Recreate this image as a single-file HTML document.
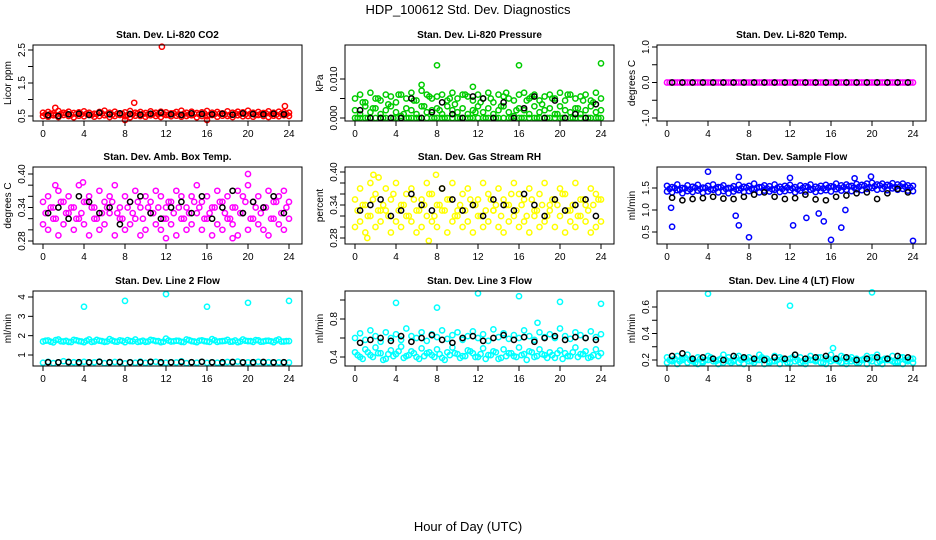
<!DOCTYPE html>
<html><head><meta charset="utf-8"><style>
body{margin:0;background:#fff}
svg{display:block;font-family:"Liberation Sans",sans-serif}
</style></head><body>
<svg id="chart" width="936" height="540" viewBox="0 0 936 540" xmlns="http://www.w3.org/2000/svg">
<rect width="936" height="540" fill="#fff"/>
<text x="468" y="14" font-size="13" text-anchor="middle">HDP_100612  Std. Dev. Diagnostics</text>
<text x="468" y="531" font-size="13" text-anchor="middle">Hour of Day (UTC)</text>
</svg>
<script>
const hours=[0,0.5,1,1.5,2,2.5,3,3.5,4,4.5,5,5.5,6,6.5,7,7.5,8,8.5,9,9.5,10,10.5,11,11.5,12,12.5,13,13.5,14,14.5,15,15.5,16,16.5,17,17.5,18,18.5,19,19.5,20,20.5,21,21.5,22,22.5,23,23.5,24];
const hoursQ=[0.25,0.75,1.25,1.75,2.25,2.75,3.25,3.75,4.25,4.75,5.25,5.75,6.25,6.75,7.25,7.75,8.25,8.75,9.25,9.75,10.25,10.75,11.25,11.75,12.25,12.75,13.25,13.75,14.25,14.75,15.25,15.75,16.25,16.75,17.25,17.75,18.25,18.75,19.25,19.75,20.25,20.75,21.25,21.75,22.25,22.75,23.25,23.75];
const hoursK=[0.5,1.5,2.5,3.5,4.5,5.5,6.5,7.5,8.5,9.5,10.5,11.5,12.5,13.5,14.5,15.5,16.5,17.5,18.5,19.5,20.5,21.5,22.5,23.5];
const xTicks=[0,4,8,12,16,20,24];

const co2A=[0.6,0.62,0.58,0.65,0.6,0.63,0.59,0.61,0.64,0.6,0.57,0.62,0.66,0.6,0.63,0.58,0.61,0.65,0.6,0.62,0.59,0.64,0.6,0.63,0.61,0.58,0.62,0.66,0.6,0.63,0.59,0.61,0.65,0.6,0.62,0.58,0.64,0.6,0.63,0.61,0.66,0.6,0.62,0.59,0.64,0.6,0.63,0.61,0.6];
const co2B=[0.5,0.48,0.52,0.47,0.53,0.5,0.46,0.51,0.49,0.54,0.48,0.5,0.52,0.47,0.5,0.53,0.49,0.46,0.51,0.5,0.48,0.52,0.5,0.47,0.53,0.49,0.51,0.48,0.5,0.52,0.46,0.5,0.49,0.53,0.48,0.51,0.5,0.47,0.52,0.49,0.5,0.48,0.53,0.5,0.47,0.51,0.49,0.52,0.5];
const co2D=[0.55,0.57,0.53,0.56,0.58,0.54,0.56,0.55,0.57,0.53,0.56,0.58,0.55,0.54,0.57,0.56,0.53,0.55,0.58,0.56,0.54,0.57,0.55,0.56,0.53,0.58,0.55,0.57,0.54,0.56,0.55,0.58,0.53,0.56,0.57,0.55,0.54,0.58,0.56,0.55,0.57,0.53,0.56,0.58,0.55,0.54,0.57,0.56];
const co2K=[0.52,0.5,0.55,0.57,0.53,0.6,0.55,0.58,0.56,0.54,0.57,0.6,0.55,0.53,0.58,0.56,0.55,0.57,0.54,0.58,0.56,0.55,0.57,0.55];
const co2OutH=[11.6,8.9,23.6,1.2,8,16];
const co2OutV=[2.6,0.9,0.8,0.75,0.38,0.38];

const presA=[0.005,0.006,0.004,0.0065,0.005,0.0045,0.006,0.0055,0.004,0.006,0.005,0.0065,0.0045,0.007,0.006,0.005,0.0055,0.006,0.0045,0.0065,0.005,0.006,0.0055,0.0045,0.006,0.005,0.0065,0.004,0.006,0.0055,0.005,0.0045,0.006,0.0065,0.005,0.006,0.0045,0.0055,0.006,0.005,0.0065,0.0045,0.006,0.005,0.0055,0.006,0.0045,0.0065,0.005];
const presB=[0.002,0.001,0.003,0.0015,0.0025,0.001,0.002,0.003,0.0015,0.0005,0.0025,0.002,0.001,0.003,0.0015,0.002,0.0025,0.001,0.003,0.002,0.0015,0.0025,0.001,0.002,0.003,0.0015,0.0025,0.001,0.002,0.003,0.0015,0.0005,0.0025,0.002,0.001,0.003,0.0015,0.002,0.0025,0.001,0.003,0.002,0.0015,0.0025,0.001,0.002,0.003,0.0015,0.002];
const presC=[0,0,0,0,0,0,0,0,0,0,0,0,0,0,0,0,0,0,0,0,0,0,0,0,0,0,0,0,0,0,0,0,0,0,0,0,0,0,0,0,0,0,0,0,0,0,0,0,0];
const presD=[0,0.004,0,0.0025,0.005,0,0.0035,0,0.006,0.001,0,0.0045,0,0.003,0.0055,0,0.002,0,0.005,0.0035,0,0.006,0,0.0015,0.004,0,0.005,0,0.003,0.0065,0,0.002,0,0.0045,0.0055,0,0.0035,0,0.005,0.001,0,0.006,0,0.0025,0.0045,0,0.004,0];
const presK=[0.002,0,0,0,0,0.005,0,0.0015,0.004,0.001,0,0.0055,0.005,0,0.004,0,0.0025,0.0055,0,0.0045,0,0.001,0,0.0035];
const presOutH=[8,16,24,6.5,11.5];
const presOutV=[0.0135,0.0135,0.014,0.0085,0.008];

const tempA=[0,0,0,0,0,0,0,0,0,0,0,0,0,0,0,0,0,0,0,0,0,0,0,0,0,0,0,0,0,0,0,0,0,0,0,0,0,0,0,0,0,0,0,0,0,0,0,0,0];
const tempD=[0,0,0,0,0,0,0,0,0,0,0,0,0,0,0,0,0,0,0,0,0,0,0,0,0,0,0,0,0,0,0,0,0,0,0,0,0,0,0,0,0,0,0,0,0,0,0,0];
const tempK=[0,0,0,0,0,0,0,0,0,0,0,0,0,0,0,0,0,0,0,0,0,0,0,0];

const ambA=[0.35,0.36,0.34,0.37,0.35,0.36,0.34,0.38,0.35,0.36,0.34,0.37,0.35,0.36,0.38,0.34,0.36,0.35,0.37,0.34,0.36,0.35,0.37,0.36,0.34,0.35,0.37,0.36,0.34,0.36,0.38,0.35,0.36,0.34,0.37,0.35,0.36,0.34,0.37,0.36,0.38,0.35,0.36,0.34,0.37,0.35,0.36,0.37,0.35];
const ambB=[0.31,0.3,0.32,0.29,0.31,0.33,0.3,0.32,0.31,0.29,0.32,0.3,0.31,0.33,0.29,0.32,0.3,0.31,0.32,0.29,0.3,0.33,0.31,0.3,0.32,0.31,0.29,0.32,0.3,0.31,0.33,0.3,0.32,0.29,0.31,0.3,0.32,0.31,0.29,0.33,0.3,0.32,0.31,0.3,0.29,0.32,0.31,0.3,0.32];
const ambD=[0.33,0.34,0.32,0.35,0.33,0.34,0.32,0.33,0.35,0.34,0.32,0.33,0.34,0.35,0.33,0.32,0.34,0.33,0.35,0.32,0.34,0.33,0.34,0.32,0.35,0.33,0.34,0.32,0.33,0.35,0.34,0.32,0.33,0.34,0.35,0.33,0.32,0.34,0.33,0.35,0.32,0.34,0.33,0.34,0.32,0.35,0.33,0.34];
const ambK=[0.33,0.34,0.32,0.36,0.35,0.33,0.34,0.31,0.35,0.36,0.33,0.32,0.34,0.35,0.33,0.36,0.32,0.34,0.37,0.33,0.35,0.34,0.36,0.33];
const ambOutH=[20,3.9,18.5,12,1.2];
const ambOutV=[0.40,0.385,0.285,0.285,0.38];

const rhA=[0.35,0.37,0.34,0.38,0.36,0.33,0.37,0.35,0.38,0.34,0.36,0.37,0.33,0.35,0.38,0.36,0.34,0.37,0.35,0.38,0.33,0.36,0.37,0.34,0.35,0.38,0.36,0.33,0.37,0.35,0.34,0.38,0.36,0.35,0.37,0.33,0.36,0.38,0.34,0.35,0.37,0.36,0.33,0.38,0.35,0.34,0.37,0.36,0.35];
const rhB=[0.3,0.31,0.29,0.32,0.3,0.31,0.33,0.29,0.31,0.3,0.32,0.31,0.29,0.3,0.32,0.31,0.3,0.33,0.29,0.31,0.32,0.3,0.31,0.29,0.32,0.3,0.31,0.33,0.3,0.29,0.31,0.32,0.3,0.31,0.29,0.32,0.3,0.31,0.33,0.3,0.32,0.29,0.31,0.3,0.32,0.31,0.29,0.3,0.31];
const rhD=[0.33,0.34,0.32,0.35,0.33,0.34,0.32,0.36,0.33,0.34,0.32,0.35,0.33,0.34,0.36,0.32,0.34,0.33,0.35,0.32,0.34,0.33,0.35,0.34,0.32,0.33,0.35,0.34,0.32,0.34,0.36,0.33,0.34,0.32,0.35,0.33,0.34,0.32,0.35,0.34,0.36,0.33,0.34,0.32,0.35,0.33,0.34,0.35];
const rhK=[0.33,0.34,0.35,0.32,0.33,0.36,0.34,0.33,0.37,0.35,0.33,0.34,0.32,0.35,0.34,0.33,0.36,0.34,0.32,0.35,0.33,0.34,0.35,0.32];
const rhOutH=[1.8,2.3,7.9,1.2,7.2];
const rhOutV=[0.395,0.39,0.395,0.28,0.275];

const flowA=[1.55,1.52,1.58,1.5,1.56,1.53,1.57,1.51,1.55,1.58,1.52,1.56,1.5,1.54,1.57,1.53,1.55,1.6,1.52,1.56,1.54,1.58,1.53,1.55,1.57,1.52,1.56,1.54,1.58,1.53,1.55,1.57,1.54,1.6,1.56,1.58,1.55,1.59,1.57,1.6,1.62,1.58,1.6,1.57,1.61,1.58,1.6,1.56,1.55];
const flowB=[1.42,1.4,1.45,1.38,1.43,1.41,1.44,1.39,1.42,1.46,1.4,1.43,1.38,1.42,1.45,1.41,1.43,1.47,1.4,1.44,1.42,1.46,1.41,1.43,1.45,1.4,1.44,1.42,1.46,1.41,1.43,1.45,1.42,1.47,1.44,1.46,1.43,1.47,1.45,1.48,1.5,1.46,1.48,1.45,1.49,1.46,1.48,1.44,1.43];
const flowD=[1.48,1.5,1.46,1.49,1.47,1.51,1.48,1.5,1.47,1.49,1.52,1.48,1.5,1.47,1.49,1.51,1.48,1.5,1.52,1.49,1.47,1.5,1.48,1.51,1.49,1.47,1.5,1.52,1.48,1.5,1.49,1.51,1.53,1.5,1.52,1.54,1.51,1.53,1.55,1.52,1.54,1.56,1.53,1.55,1.52,1.54,1.53,1.51];
const flowK=[1.28,1.22,1.25,1.27,1.3,1.26,1.25,1.3,1.35,1.4,1.3,1.25,1.27,1.35,1.24,1.22,1.3,1.33,1.38,1.4,1.25,1.38,1.48,1.4];
const flowOutH=[4,7,12,0.5,6.7,7,8,16,17,17.4,13.6,14.8,12.3,24,0.4,15.3,18.3,19.9];
const flowOutV=[1.87,1.75,1.73,0.62,0.87,0.65,0.38,0.32,0.6,1.0,0.82,0.92,0.65,0.3,1.05,0.74,1.72,1.76];

const l2A=[1.7,1.75,1.65,1.8,1.7,1.68,1.78,1.72,1.66,1.8,1.7,1.74,1.68,1.82,1.7,1.76,1.66,1.72,1.8,1.7,1.68,1.78,1.72,1.66,1.85,1.7,1.74,1.68,1.8,1.72,1.66,1.76,1.7,1.82,1.68,1.72,1.78,1.7,1.66,1.8,1.72,1.68,1.76,1.7,1.74,1.66,1.8,1.7,1.72];
const l2B=[0.6,0.65,0.58,0.62,0.68,0.6,0.63,0.57,0.65,0.6,0.62,0.66,0.58,0.6,0.64,0.61,0.57,0.63,0.6,0.66,0.59,0.62,0.65,0.58,0.6,0.63,0.61,0.67,0.58,0.62,0.6,0.65,0.59,0.63,0.6,0.57,0.64,0.61,0.66,0.6,0.62,0.58,0.65,0.6,0.63,0.59,0.62,0.6,0.61];
const l2D=[1.74,1.69,1.77,1.71,1.73,1.67,1.76,1.7,1.74,1.68,1.78,1.72,1.7,1.75,1.69,1.73,1.77,1.71,1.68,1.74,1.7,1.76,1.72,1.69,1.75,1.71,1.73,1.67,1.77,1.7,1.74,1.72,1.68,1.76,1.71,1.73,1.69,1.75,1.7,1.74,1.72,1.77,1.69,1.73,1.71,1.75,1.7,1.72];
const l2K=[0.63,0.62,0.64,0.63,0.62,0.65,0.63,0.64,0.62,0.63,0.65,0.63,0.62,0.64,0.63,0.65,0.62,0.63,0.64,0.62,0.63,0.64,0.62,0.63];
const l2OutH=[4,8,12,16,20,24];
const l2OutV=[3.5,3.8,4.15,3.5,3.7,3.8];

const l3A=[0.6,0.65,0.58,0.68,0.62,0.56,0.66,0.6,0.64,0.58,0.7,0.62,0.6,0.66,0.57,0.64,0.61,0.68,0.59,0.63,0.66,0.58,0.62,0.67,0.6,0.64,0.57,0.69,0.61,0.65,0.59,0.63,0.6,0.68,0.62,0.58,0.66,0.61,0.64,0.6,0.7,0.62,0.59,0.66,0.63,0.6,0.67,0.61,0.64];
const l3B=[0.45,0.4,0.48,0.42,0.5,0.44,0.38,0.47,0.43,0.51,0.41,0.46,0.4,0.49,0.44,0.42,0.48,0.39,0.45,0.5,0.43,0.41,0.47,0.44,0.4,0.49,0.42,0.46,0.38,0.48,0.44,0.41,0.5,0.43,0.46,0.4,0.48,0.42,0.45,0.39,0.47,0.44,0.41,0.5,0.43,0.46,0.4,0.48,0.44];
const l3D=[0.42,0.38,0.45,0.4,0.44,0.37,0.43,0.41,0.46,0.39,0.42,0.44,0.38,0.41,0.45,0.4,0.43,0.37,0.42,0.44,0.39,0.41,0.46,0.4,0.43,0.38,0.42,0.45,0.39,0.41,0.44,0.4,0.42,0.37,0.45,0.41,0.43,0.39,0.42,0.44,0.38,0.41,0.45,0.4,0.43,0.39,0.42,0.41];
const l3K=[0.55,0.58,0.6,0.57,0.62,0.56,0.6,0.63,0.58,0.55,0.6,0.62,0.57,0.6,0.63,0.58,0.61,0.56,0.6,0.62,0.58,0.61,0.6,0.58];
const l3OutH=[4,8,12,16,20,24,17.8];
const l3OutV=[0.97,0.92,1.07,1.04,0.98,0.96,0.76];

const l4A=[0.22,0.2,0.23,0.21,0.24,0.2,0.22,0.19,0.23,0.21,0.2,0.24,0.22,0.19,0.23,0.21,0.22,0.2,0.24,0.21,0.19,0.23,0.22,0.2,0.21,0.24,0.22,0.19,0.23,0.2,0.22,0.21,0.24,0.2,0.23,0.19,0.22,0.21,0.2,0.23,0.22,0.24,0.2,0.21,0.23,0.19,0.22,0.2,0.21];
const l4B=[0.18,0.19,0.17,0.2,0.18,0.19,0.17,0.18,0.2,0.19,0.17,0.18,0.19,0.2,0.18,0.17,0.19,0.18,0.2,0.17,0.18,0.19,0.17,0.2,0.18,0.19,0.18,0.17,0.2,0.19,0.18,0.17,0.19,0.2,0.18,0.17,0.19,0.18,0.2,0.17,0.19,0.18,0.17,0.2,0.19,0.18,0.17,0.19,0.18];
const l4D=[0.2,0.21,0.19,0.22,0.2,0.18,0.21,0.2,0.22,0.19,0.21,0.2,0.18,0.22,0.2,0.21,0.19,0.2,0.22,0.21,0.19,0.2,0.21,0.18,0.22,0.2,0.19,0.21,0.2,0.22,0.18,0.21,0.2,0.19,0.22,0.21,0.2,0.18,0.21,0.2,0.22,0.19,0.21,0.2,0.18,0.22,0.2,0.21];
const l4K=[0.23,0.25,0.21,0.22,0.21,0.2,0.23,0.22,0.21,0.2,0.22,0.21,0.24,0.21,0.22,0.23,0.21,0.22,0.2,0.21,0.22,0.21,0.23,0.22];
const l4OutH=[4,12,20,16.2];
const l4OutV=[0.7,0.61,0.71,0.29];

const NS='http://www.w3.org/2000/svg';
const svg=document.getElementById('chart');
function mk(tag,attrs,parent){const e=document.createElementNS(NS,tag);for(const k in attrs)e.setAttribute(k,attrs[k]);(parent||svg).appendChild(e);return e;}

const cols=[33,345,657], rowsT=[45,167,291], rowsB=[121,244,366], W=269;
const panels=[
 {name:'co2',title:'Stan. Dev. Li-820 CO2',yl:'Licor ppm',c:'#ff0000',cal:[0.5,116,2.5,50],ticks:[0.5,1,1.5,2,2.5],labels:['0.5','','1.5','','2.5'],A:co2A,B:co2B,C:null,D:co2D,K:co2K,oh:co2OutH,ov:co2OutV},
 {name:'pressure',title:'Stan. Dev. Li-820 Pressure',yl:'kPa',c:'#00cc00',cal:[0,118,0.01,79],ticks:[0,0.005,0.01],labels:['0.000','','0.010'],A:presA,B:presB,C:presC,D:presD,K:presK,oh:presOutH,ov:presOutV},
 {name:'temp',title:'Stan. Dev. Li-820 Temp.',yl:'degrees C',c:'#ff00ff',cal:[-1,118,1,47],ticks:[-1,-0.5,0,0.5,1],labels:['-1.0','','0.0','','1.0'],A:tempA,B:null,C:null,D:tempD,K:tempK,oh:[],ov:[]},
 {name:'amb-box-temp',title:'Stan. Dev. Amb. Box Temp.',yl:'degrees C',c:'#ff00ff',cal:[0.28,241,0.40,174],ticks:[0.28,0.30,0.32,0.34,0.36,0.38,0.40],labels:['0.28','','','0.34','','','0.40'],A:ambA,B:ambB,C:null,D:ambD,K:ambK,oh:ambOutH,ov:ambOutV},
 {name:'gas-stream-rh',title:'Stan. Dev. Gas Stream RH',yl:'percent',c:'#ffff00',cal:[0.28,238,0.40,172],ticks:[0.28,0.30,0.32,0.34,0.36,0.38,0.40],labels:['0.28','','','0.34','','','0.40'],A:rhA,B:rhB,C:null,D:rhD,K:rhK,oh:rhOutH,ov:rhOutV},
 {name:'sample-flow',title:'Stan. Dev. Sample Flow',yl:'ml/min',c:'#0000ff',cal:[0.5,232,1.5,188],ticks:[0.5,1,1.5],labels:['0.5','1.0','1.5'],A:flowA,B:flowB,C:null,D:flowD,K:flowK,oh:flowOutH,ov:flowOutV},
 {name:'line2-flow',title:'Stan. Dev. Line 2 Flow',yl:'ml/min',c:'#00ffff',cal:[1,355,4,297],ticks:[1,2,3,4],labels:['1','2','3','4'],A:l2A,B:l2B,C:null,D:l2D,K:l2K,oh:l2OutH,ov:l2OutV},
 {name:'line3-flow',title:'Stan. Dev. Line 3 Flow',yl:'ml/min',c:'#00ffff',cal:[0.4,357,0.8,319],ticks:[0.4,0.6,0.8,1.0],labels:['0.4','','0.8',''],A:l3A,B:l3B,C:null,D:l3D,K:l3K,oh:l3OutH,ov:l3OutV},
 {name:'line4-flow',title:'Stan. Dev. Line 4 (LT) Flow',yl:'ml/min',c:'#00ffff',cal:[0.2,360,0.6,307],ticks:[0.2,0.3,0.4,0.5,0.6],labels:['0.2','','0.4','','0.6'],A:l4A,B:l4B,C:null,D:l4D,K:l4K,oh:l4OutH,ov:l4OutV}
];

panels.forEach((p,i)=>{
 const L=cols[i%3], T=rowsT[Math.floor(i/3)], B=rowsB[Math.floor(i/3)];
 const xs=h=>L+10+h*(246/24);
 const ys=v=>p.cal[1]+(v-p.cal[0])*(p.cal[3]-p.cal[1])/(p.cal[2]-p.cal[0]);
 const g=mk('g',{});
 
 
 const t=mk('text',{x:L+W/2,y:T-7,'font-size':10,'font-weight':'bold','text-anchor':'middle'},g);
 t.textContent=p.title;
 
 
 const yt=mk('text',{transform:`translate(${L-22},${(T+B)/2}) rotate(-90)`,'font-size':10,'text-anchor':'middle'},g);
 yt.textContent=p.yl;
 
 
 const clip=mk('g',{},g);
 function dots(hs,vs,color,nm){
  const s=mk('g',{fill:'none',stroke:color,'stroke-width':1.5},clip);
  
  
  vs.forEach((v,j)=>{mk('circle',{cx:xs(hs[j]).toFixed(1),cy:ys(v).toFixed(1),r:2.6},s);});
 }
 dots(hours,p.A,p.c,p.name+'-series-a');
 if(p.B) dots(hours,p.B,p.c,p.name+'-series-b');
 if(p.C) dots(hours,p.C,p.c,p.name+'-series-c');
 if(p.D) dots(hoursQ,p.D,p.c,p.name+'-series-d');
 dots(p.oh,p.ov,p.c,p.name+'-outliers');
 dots(hoursK,p.K,'#000',p.name+'-hourly-means');
 const box=mk('rect',{x:L,y:T,width:W,height:B-T,fill:'none',stroke:'#000','stroke-width':1},g);
 
 
 const xa=mk('g',{stroke:'#000','stroke-width':1},g);
 
 
 mk('line',{x1:xs(0),x2:xs(24),y1:B,y2:B},xa);
 xTicks.forEach(h=>{
  mk('line',{x1:xs(h),x2:xs(h),y1:B,y2:B+5},xa);
  const tl=mk('text',{x:xs(h),y:B+16,'font-size':10,'text-anchor':'middle',stroke:'none'},xa);
  tl.textContent=String(h);
 });
 const ya=mk('g',{stroke:'#000','stroke-width':1},g);
 
 
 p.ticks.forEach((v,j)=>{
  const y=ys(v);
  mk('line',{x1:L-5,x2:L,y1:y,y2:y},ya);
  if(p.labels[j]){
   const tl=mk('text',{transform:`translate(${L-8},${y}) rotate(-90)`,'font-size':10,'text-anchor':'middle',stroke:'none'},ya);
   tl.textContent=p.labels[j];
  }
 });
});
</script>
</body></html>
